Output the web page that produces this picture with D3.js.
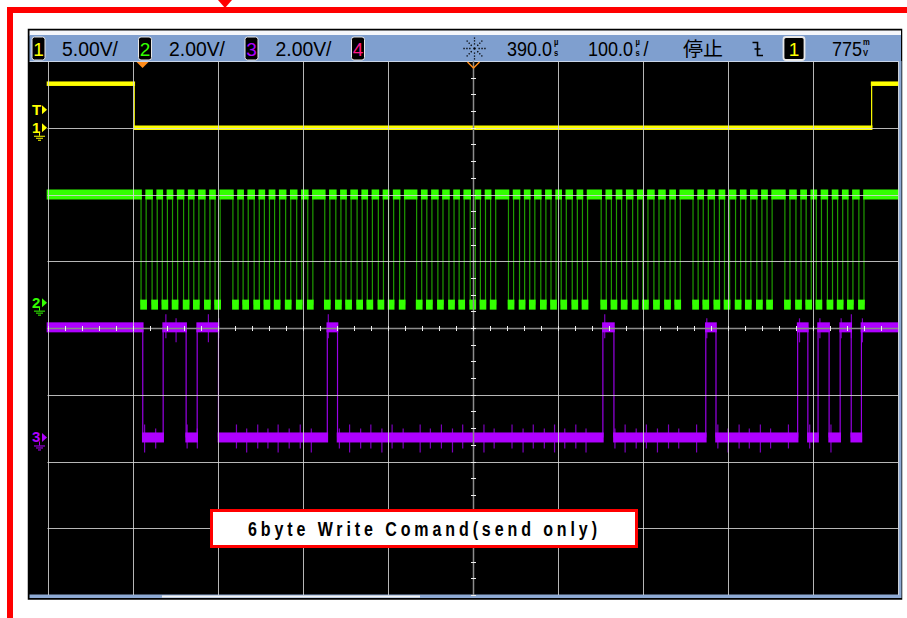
<!DOCTYPE html>
<html>
<head>
<meta charset="utf-8">
<script src="https://cdn.jsdelivr.net/npm/d3@7"></script>
<style>
  html, body { margin: 0; padding: 0; background: #fff; overflow: hidden; }
  svg { display: block; }
</style>
</head>
<body>
<svg id="scope" width="907" height="618"></svg>
<script>
// ---- status bar settings ----
const channelNames  = ["1", "2", "3", "4"];
const channelColors = ["#ffff00", "#33ff00", "#b000ff", "#ff1a8c"];
const scaleLabels   = ["5.00V/", "2.00V/", "2.00V/"];
const voltsPerDiv   = [5, 2, 2];
const groundDiv     = [3.0, 0.35, -1.64];   // ground reference of ch1..ch3, divisions from centre
const delayLabel    = "390.0";
const timebaseLabel = "100.0";
const runStateLabel = "停止";
const triggerSource = "1";
const triggerLevel  = "775";
const noteText      = "6byte Write Comand(send only)";

// ---- time axis (µs), 100 µs/div, trigger at 0 ----
const timeDomain = [-110, 890];
const timeDelay  = 390;

// ---- ch1: CS ----
const csTimes  = [-110, -8, 859, 890];
const csLevels = [3.3, 0, 3.3];

// ---- ch2: SCK, centre of every low pulse (µs) ----
const sckLowCentres = [
  3, 16, 28, 40, 53, 65, 78, 90,
  111, 123, 136, 148, 160, 173, 186, 199,
  219, 232, 244, 257, 269, 282, 294, 307,
  327, 339, 352, 365, 377, 390, 402, 414,
  435, 448, 460, 473, 485, 497, 510, 522,
  544, 556, 568, 581, 593, 606, 619, 631,
  652, 664, 677, 689, 702, 714, 727, 739,
  760, 773, 785, 797, 810, 822, 834, 847
];
const sckLowWidth = 6;
const sckHigh = 3.3, sckLow = 0;

// ---- ch3: MOSI ----
const mosiTimes  = [-110, 2, 26, 53, 66, 91, 219, 231, 543, 556, 664, 676, 772, 784, 796, 809, 822, 835, 847, 890];
const mosiLevels = [3.3, 0, 3.3, 0, 3.3, 0, 3.3, 0, 3.3, 0, 3.3, 0, 3.3, 0, 3.3, 0, 3.3, 0, 3.3];

// ---------------------------------------------------------------
const svg = d3.select("#scope");
const gridL = 47.5, gridR = 898, gridT = 61, gridB = 595;

const x = d3.scaleLinear().domain(timeDomain).range([gridL, gridR]);
const yDiv = d3.scaleLinear().domain([4, -4]).range([gridT, gridB]);
const chY = i => v => yDiv(groundDiv[i] + v / voltsPerDiv[i]);

// red annotation frame
svg.append("path")
  .attr("d", "M10,618 L10,10 L907,10")
  .attr("fill", "none").attr("stroke", "#ff0000").attr("stroke-width", 6);
svg.append("path")
  .attr("d", "M218,0 L232,0 L225,8 Z").attr("fill", "#ff0000");

// instrument screen
svg.append("rect").attr("x", 28.5).attr("y", 29.5).attr("width", 873).attr("height", 569.5)
  .attr("fill", "#000").attr("stroke", "#000").attr("stroke-width", 1.5);
svg.append("rect").attr("x", 29.5).attr("y", 30.5).attr("width", 871.5).attr("height", 5).attr("fill", "#f4f6fa");
svg.append("rect").attr("x", 29.5).attr("y", 35).attr("width", 871.5).attr("height", 26).attr("fill", "#7f9fcf");
svg.append("line").attr("x1", 29.5).attr("x2", 901).attr("y1", 61.5).attr("y2", 61.5).attr("stroke", "#c9d5e8");
svg.append("rect").attr("x", 898).attr("y", 61).attr("width", 3.5).attr("height", 537).attr("fill", "#8eaad4");
svg.append("rect").attr("x", 29.5).attr("y", 594.5).attr("width", 871.5).attr("height", 3.5).attr("fill", "#8eaad4");
svg.append("rect").attr("x", 162).attr("y", 595.5).attr("width", 258).attr("height", 2).attr("fill", "#f2f2f2");

const plot = svg.append("g");

// step trace: thin edges plus thick level bands
function drawTrace(times, levels, y, color, edgeColor, band) {
  const g = plot.append("g");
  const segs = levels.map((v, i) => ({ t0: times[i], t1: times[i + 1], v }));
  g.selectAll("line.edge").data(segs.slice(1)).join("line")
    .attr("x1", d => x(d.t0)).attr("x2", d => x(d.t0))
    .attr("y1", (d, i) => y(segs[i].v)).attr("y2", d => y(d.v))
    .attr("stroke", edgeColor).attr("stroke-width", 1.2);
  g.selectAll("rect").data(segs).join("rect")
    .attr("x", d => x(d.t0) - 0.8)
    .attr("width", d => Math.max(1, x(d.t1) - x(d.t0) + 1.6))
    .attr("y", d => y(d.v) - band / 2)
    .attr("height", band)
    .attr("fill", color);
  return g;
}

// SCK step list from its low pulses
const sckTimes = [timeDomain[0]], sckLevels = [sckHigh];
sckLowCentres.forEach(c => {
  sckTimes.push(c - sckLowWidth / 2); sckLevels.push(sckLow);
  sckTimes.push(c + sckLowWidth / 2); sckLevels.push(sckHigh);
});
sckTimes.push(timeDomain[1]);

// crosstalk spikes on MOSI at every clock pulse
const mosiY = chY(2);
const mosiAt = t => mosiLevels[d3.bisectRight(mosiTimes, t) - 1];
plot.append("g").selectAll("line").data(sckLowCentres).join("line")
  .attr("x1", d => x(d) + 1).attr("x2", d => x(d) + 1)
  .attr("y1", (d, i) => mosiY(mosiAt(d)) - (i % 2 ? 9 : 13))
  .attr("y2", (d, i) => mosiY(mosiAt(d)) + (i % 3 ? 11 : 15))
  .attr("stroke", "#7c00bc").attr("stroke-width", 1.2);

drawTrace(mosiTimes, mosiLevels, mosiY, "#ae00ff", "#9a00e6", 10);
drawTrace(sckTimes, sckLevels, chY(1), "#33ff00", "#1f9c00", 10);
drawTrace(csTimes, csLevels, chY(0), "#ffff00", "#ffff00", 4.5);

// graticule
const grid = svg.append("g").attr("stroke", "#d6d6d6").attr("stroke-opacity", 0.85).attr("stroke-width", 1);
const vTimes = d3.range(timeDomain[0], timeDomain[1] + 1, 100);
grid.selectAll("line.v").data(vTimes).join("line")
  .attr("x1", d => Math.round(x(d)) + 0.5).attr("x2", d => Math.round(x(d)) + 0.5)
  .attr("y1", gridT).attr("y2", gridB);
grid.selectAll("line.h").data(d3.range(-3, 4)).join("line")
  .attr("x1", gridL).attr("x2", gridR)
  .attr("y1", d => Math.round(yDiv(d)) + 0.5).attr("y2", d => Math.round(yDiv(d)) + 0.5);

// centre axes with minor ticks
const cx = Math.round(x(timeDelay)) + 0.5, cy = Math.round(yDiv(0)) + 0.5;
svg.append("line").attr("x1", cx).attr("x2", cx).attr("y1", gridT).attr("y2", gridB)
  .attr("stroke", "#8c8c8c").attr("stroke-width", 1.5);
svg.append("line").attr("x1", gridL).attr("x2", gridR).attr("y1", cy).attr("y2", cy)
  .attr("stroke", "#8c8c8c").attr("stroke-width", 1.5);
svg.append("g").selectAll("line").data(d3.range(timeDomain[0], timeDomain[1], 20)).join("line")
  .attr("x1", d => Math.round(x(d)) + 0.5).attr("x2", d => Math.round(x(d)) + 0.5)
  .attr("y1", cy - 2.5).attr("y2", cy + 2.5).attr("stroke", "#eeeeee");
svg.append("g").selectAll("line").data(d3.range(-4, 4, 0.25)).join("line")
  .attr("y1", d => Math.round(yDiv(d)) + 0.5).attr("y2", d => Math.round(yDiv(d)) + 0.5)
  .attr("x1", cx - 2.5).attr("x2", cx + 2.5).attr("stroke", "#eeeeee");

// trigger point and delay markers
const tx = x(0) + 1.5;
svg.append("path").attr("d", `M${tx - 6},62 L${tx + 6},62 L${tx},68 Z`).attr("fill", "#ff8c1a");
svg.append("path").attr("d", `M${cx - 6},62 L${cx},68 L${cx + 6},62`)
  .attr("fill", "none").attr("stroke", "#ff8c1a").attr("stroke-width", 1.5);

// channel reference markers on the left edge
function marker(label, yPos, color, withGround) {
  const g = svg.append("g").attr("fill", color).attr("stroke", color);
  g.append("text").attr("x", 32).attr("y", yPos + 5).attr("stroke", "none")
    .attr("font-family", "Liberation Sans, sans-serif")
    .attr("font-size", 15).attr("font-weight", "bold").text(label);
  g.append("path").attr("stroke", "none")
    .attr("d", `M42,${yPos - 4.5} L47,${yPos} L42,${yPos + 4.5} Z`);
  if (withGround) {
    g.append("path").attr("fill", "none").attr("stroke-width", 1)
      .attr("d", `M39.5,${yPos + 4} V${yPos + 8} M34,${yPos + 8.5} H45 M36,${yPos + 10.5} H43 M38,${yPos + 12.5} H41`);
  }
}
marker("T", yDiv(groundDiv[0]) - 18, channelColors[0], false);
marker("1", yDiv(groundDiv[0]), channelColors[0], true);
marker("2", yDiv(groundDiv[1]) - 2, channelColors[1], true);
marker("3", yDiv(groundDiv[2]), channelColors[2], true);

// ---- status bar ----
const hdr = svg.append("g").attr("font-family", "Liberation Sans, Arial, sans-serif");
function chBox(xPos, w, label, color, strokeW) {
  hdr.append("rect").attr("x", xPos).attr("y", 37).attr("width", w).attr("height", 23).attr("rx", 2.5)
    .attr("fill", "#000").attr("stroke", "#e8e8e8").attr("stroke-width", strokeW);
  hdr.append("text").attr("x", xPos + w / 2).attr("y", 55.5).attr("text-anchor", "middle")
    .attr("font-size", 19).attr("fill", color).text(label);
}
const boxX = [32, 138.5, 245, 351.5];
const lblX = [62, 169, 275.5];
channelNames.forEach((n, i) => chBox(boxX[i], 13, n, channelColors[i], 1));
scaleLabels.forEach((s, i) => hdr.append("text").attr("x", lblX[i]).attr("y", 55.5)
  .attr("font-size", 20).attr("textLength", 56).attr("lengthAdjust", "spacingAndGlyphs")
  .attr("fill", "#000").text(s));

// acquisition icon
const ic = hdr.append("g").attr("stroke", "#000").attr("stroke-width", 1.3).attr("stroke-dasharray", "1.3,1.6");
d3.range(0, 360, 45).forEach(a => {
  const r = a * Math.PI / 180;
  ic.append("line").attr("x1", 474.5 + 4 * Math.cos(r)).attr("y1", 48.5 + 4 * Math.sin(r))
    .attr("x2", 474.5 + 12 * Math.cos(r)).attr("y2", 48.5 + 12 * Math.sin(r));
});
hdr.append("circle").attr("cx", 474.5).attr("cy", 48.5).attr("r", 1.2).attr("fill", "#000");

// a reading followed by a two-row unit (e.g. µ over s), drawn as one slightly condensed text run
const squeeze = 0.9;
function reading(xPos, value, unitTop, unitBottom, unitX, tail) {
  const t = hdr.append("text")
    .attr("transform", `translate(${xPos},55.5) scale(${squeeze},1)`)
    .attr("font-size", 20).attr("fill", "#000");
  t.append("tspan").attr("x", 0).attr("y", 0).text(value);
  const ux = (unitX - xPos) / squeeze;
  t.append("tspan").attr("x", ux).attr("y", -10.5)
    .attr("font-size", 8.5).attr("font-weight", "bold").text(unitTop);
  t.append("tspan").attr("x", ux).attr("y", 0.5)
    .attr("font-size", 8.5).attr("font-weight", "bold").text(unitBottom);
  if (tail) t.append("tspan").attr("x", (tail.x - xPos) / squeeze).attr("y", 0).text(tail.text);
}
reading(507, delayLabel, "µ", "s", 554);
reading(588, timebaseLabel, "µ", "s", 635.5, { x: 643.5, text: "/" });
reading(832, triggerLevel, "m", "V", 863);

hdr.append("text").attr("x", 683).attr("y", 56).attr("font-size", 19)
  .attr("font-family", "Noto Sans CJK JP, sans-serif").attr("textLength", 40)
  .attr("lengthAdjust", "spacingAndGlyphs").attr("fill", "#000").text(runStateLabel);
// falling-edge trigger symbol
hdr.append("path").attr("d", "M752.5,42.5 H757.5 V55.5 H763 M754.5,49 H760.5")
  .attr("fill", "none").attr("stroke", "#000").attr("stroke-width", 1.6);
chBox(783.5, 21, triggerSource, channelColors[0], 1.8);

// annotation box
svg.append("rect").attr("x", 211.5).attr("y", 510.5).attr("width", 425).attr("height", 36)
  .attr("fill", "#fff").attr("stroke", "#ff0000").attr("stroke-width", 3);
// condensed bold lettering: glyphs narrowed horizontally, spacing stretched to the full run
svg.append("text")
  .attr("transform", "translate(248,536) scale(0.8,1)")
  .attr("x", 0).attr("y", 0)
  .attr("font-family", "Liberation Sans, sans-serif")
  .attr("font-weight", "bold").attr("font-size", 20)
  .attr("textLength", 349 / 0.8).attr("lengthAdjust", "spacing")
  .attr("fill", "#000").text(noteText);
</script>
</body>
</html>
